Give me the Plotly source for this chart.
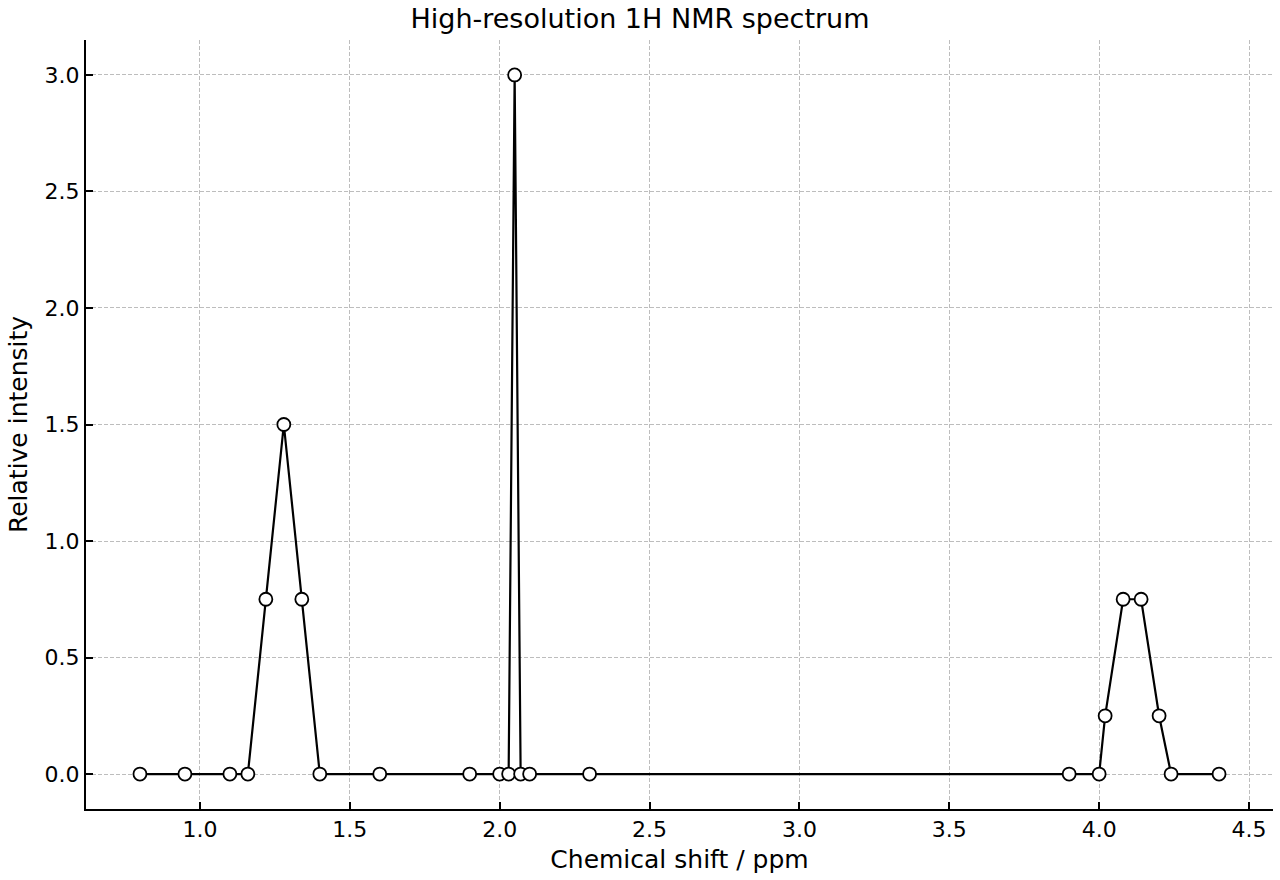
import plotly.graph_objects as go

shift_ppm = [0.80, 0.95, 1.10, 1.16, 1.22, 1.28, 1.34, 1.40, 1.60, 1.90,
             2.00, 2.03, 2.05, 2.07, 2.10, 2.30, 3.90, 4.00, 4.02, 4.08,
             4.14, 4.20, 4.24, 4.40]
intensity = [0, 0, 0, 0, 0.75, 1.5, 0.75, 0, 0, 0,
             0, 0, 3.0, 0, 0, 0, 0, 0, 0.25, 0.75,
             0.75, 0.25, 0, 0]

x_ticks = [1.0, 1.5, 2.0, 2.5, 3.0, 3.5, 4.0, 4.5]
y_ticks = [0.0, 0.5, 1.0, 1.5, 2.0, 2.5, 3.0]

fig = go.Figure()
fig.add_trace(go.Scatter(
    x=shift_ppm, y=intensity, mode="lines+markers",
    line=dict(color="black", width=2.2),
    marker=dict(size=13, color="white", line=dict(color="black", width=1.8)),
    showlegend=False,
))

font = "DejaVu Sans, sans-serif"
axis_common = dict(
    showline=True, linecolor="black", linewidth=2,
    ticks="inside", ticklen=7, tickwidth=1.5, tickcolor="black",
    showgrid=True, gridcolor="#bdbdbd", griddash="4px,2px", gridwidth=1,
    zeroline=False, mirror=False,
    tickfont=dict(family=font, size=22, color="black"),
)

fig.update_layout(
    width=1280, height=880,
    paper_bgcolor="white", plot_bgcolor="white",
    margin=dict(l=86, r=7, t=40, b=71),
    title=dict(text="High-resolution 1H NMR spectrum", x=0.5, xanchor="center",
               y=1 - 19/880, yanchor="middle",
               font=dict(family=font, size=27, color="black")),
    xaxis=dict(range=[0.62, 4.58], tickvals=x_ticks,
               ticktext=[f"{v:.1f}" for v in x_ticks],
               title=dict(text="Chemical shift / ppm", standoff=9,
                          font=dict(family=font, size=25, color="black")),
               **axis_common),
    yaxis=dict(range=[-0.15, 3.15], tickvals=y_ticks,
               ticktext=[f"{v:.1f}" for v in y_ticks],
               title=dict(text="Relative intensity", standoff=10,
                          font=dict(family=font, size=25, color="black")),
               **axis_common),
)

fig.write_html("out.html")
